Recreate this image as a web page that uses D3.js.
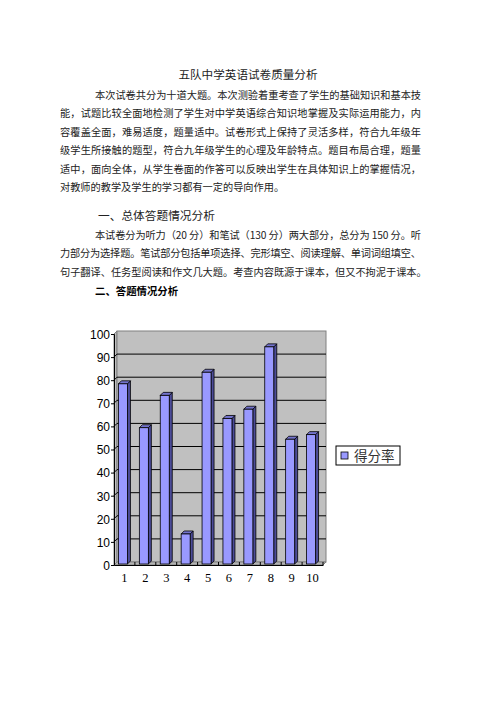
<!DOCTYPE html>
<html>
<head>
<meta charset="utf-8">
<script src="https://cdn.jsdelivr.net/npm/d3@7/dist/d3.min.js"></script>
<style>
  html, body { margin: 0; padding: 0; background: #fff; }
  svg { display: block; }
  .cjk { font-family: "Noto Sans CJK SC", "Noto Sans", sans-serif; fill: #222; }
</style>
</head>
<body>
<div id="page"></div>
<script>
// ---- data ----
const categories = ["1", "2", "3", "4", "5", "6", "7", "8", "9", "10"];
const scores = [78, 59, 73, 13, 83, 63, 67, 94, 54, 56];
const yTicks = [0, 10, 20, 30, 40, 50, 60, 70, 80, 90, 100];
const seriesName = "得分率";

const title = "五队中学英语试卷质量分析";
const para1 = [
  "本次试卷共分为十道大题。本次测验着重考查了学生的基础知识和基本技",
  "能，试题比较全面地检测了学生对中学英语综合知识地掌握及实际运用能力，内",
  "容覆盖全面，难易适度，题量适中。试卷形式上保持了灵活多样，符合九年级年",
  "级学生所接触的题型，符合九年级学生的心理及年龄特点。题目布局合理，题量",
  "适中，面向全体，从学生卷面的作答可以反映出学生在具体知识上的掌握情况，",
  "对教师的教学及学生的学习都有一定的导向作用。"
];
const heading1 = "一、总体答题情况分析";
const para2 = [
  "本试卷分为听力（20 分）和笔试（130 分）两大部分，总分为 150 分。听",
  "力部分为选择题。笔试部分包括单项选择、完形填空、阅读理解、单词词组填空、",
  "句子翻译、任务型阅读和作文几大题。考查内容既源于课本，但又不拘泥于课本。"
];
const heading2 = "二、答题情况分析";

const W = 496, H = 702;
const svg = d3.select("#page").append("svg")
    .attr("width", W).attr("height", H);

// ---- text block ----
const textLeft = 60, textRight = 421, indentX = 95, lineGap = 18.4;

svg.append("text").attr("class", "cjk")
   .attr("x", 248).attr("y", 79)
   .attr("text-anchor", "middle")
   .style("font-size", "11.6px")
   .text(title);

function paragraph(lines, y0) {
  lines.forEach((line, i) => {
    const x = i === 0 ? indentX : textLeft;
    const t = svg.append("text").attr("class", "cjk")
       .attr("x", x).attr("y", y0 + i * lineGap)
       .style("font-size", "10.2px")
       .text(line);
    if (i < lines.length - 1) {
      t.attr("textLength", textRight - x).attr("lengthAdjust", "spacing");
    }
  });
}
paragraph(para1, 99);

svg.append("text").attr("class", "cjk")
   .attr("x", 98).attr("y", 219.5)
   .style("font-size", "11.7px")
   .text(heading1);

paragraph(para2, 239);

svg.append("text").attr("class", "cjk")
   .attr("x", 95).attr("y", 294.5)
   .style("font-size", "10.4px")
   .style("font-weight", "bold")
   .style("fill", "#000")
   .text(heading2);

// ---- chart ----
const depth = 3;
const xFront0 = 114, xFront1 = 323;
const yScale = d3.scaleLinear().domain([0, 100]).range([565, 334]);
const xScale = d3.scaleBand().domain(categories).range([xFront0, xFront1]).padding(0);
const step = xScale.step();
const barW = 9;

const chart = svg.append("g");

// left side wall
chart.append("path")
  .attr("d", `M${xFront0},${yScale(0)} L${xFront0},${yScale(100)} L${xFront0 + depth},${yScale(100) - depth} L${xFront0 + depth},${yScale(0) - depth} Z`)
  .attr("fill", "#c0c0c0").attr("stroke", "#808080").attr("stroke-width", 1);

// back wall
chart.append("rect")
  .attr("x", xFront0 + depth).attr("y", yScale(100) - depth)
  .attr("width", xFront1 - xFront0).attr("height", yScale(0) - yScale(100))
  .attr("fill", "#c0c0c0").attr("stroke", "#808080").attr("stroke-width", 1);

// floor
chart.append("path")
  .attr("d", `M${xFront0},${yScale(0)} L${xFront1},${yScale(0)} L${xFront1 + depth},${yScale(0) - depth} L${xFront0 + depth},${yScale(0) - depth} Z`)
  .attr("fill", "#b4b4b4").attr("stroke", "#808080").attr("stroke-width", 1);

// gridlines on wall
const gridVals = yTicks.filter(v => v > 0 && v < 100);
chart.selectAll(".grid").data(gridVals).join("path")
  .attr("class", "grid")
  .attr("d", v => `M${xFront0},${yScale(v)} L${xFront0 + depth},${yScale(v) - depth} L${xFront1 + depth},${yScale(v) - depth}`)
  .attr("fill", "none").attr("stroke", "#000").attr("stroke-width", 1);

// bars
const bars = chart.selectAll(".bar").data(scores).join("g").attr("class", "bar");
const bx = (d, i) => xScale(categories[i]) + (step - barW - depth) / 2;
const y0b = yScale(0) - 1;
bars.append("path") // side
  .attr("d", (d, i) => {
    const x = bx(d, i) + barW, yt = yScale(d) - 1;
    return `M${x},${yt} L${x + depth},${yt - depth} L${x + depth},${y0b - depth} L${x},${y0b} Z`;
  })
  .attr("fill", "#4c4c99").attr("stroke", "#000").attr("stroke-width", 0.8);
bars.append("path") // top
  .attr("d", (d, i) => {
    const x = bx(d, i), yt = yScale(d) - 1;
    return `M${x},${yt} L${x + depth},${yt - depth} L${x + barW + depth},${yt - depth} L${x + barW},${yt} Z`;
  })
  .attr("fill", "#7373cc").attr("stroke", "#000").attr("stroke-width", 0.8);
bars.append("rect") // front
  .attr("x", (d, i) => bx(d, i))
  .attr("y", d => yScale(d) - 1)
  .attr("width", barW)
  .attr("height", d => y0b - (yScale(d) - 1))
  .attr("fill", "#9999ff").attr("stroke", "#000").attr("stroke-width", 0.8);

// y axis
const yAxis = d3.axisLeft(yScale).tickValues(yTicks).tickSize(3).tickPadding(1);
const gy = chart.append("g").attr("transform", `translate(${xFront0},0)`).call(yAxis);
gy.select(".domain").attr("stroke", "#000");
gy.selectAll("text")
  .style("font-family", "Arial, 'Liberation Sans', sans-serif")
  .style("font-size", "12px").attr("fill", "#000").attr("dy", "0.36em");

// x axis
const xAxis = d3.axisBottom(xScale).tickSize(0).tickPadding(8);
const gx = chart.append("g").attr("transform", `translate(0,${yScale(0)})`).call(xAxis);
gx.select(".domain").attr("stroke", "#000");
gx.selectAll("text")
  .style("font-family", "'Liberation Serif', 'DejaVu Serif', serif")
  .style("font-size", "12.5px").attr("fill", "#000");
// small category boundary ticks
chart.selectAll(".xtick").data(categories).join("line")
  .attr("class", "xtick")
  .attr("x1", c => xScale(c) + step).attr("x2", c => xScale(c) + step)
  .attr("y1", yScale(0)).attr("y2", yScale(0) - 3)
  .attr("stroke", "#000");

// legend
const lg = svg.append("g").attr("transform", "translate(336,446)");
lg.append("rect").attr("width", 64).attr("height", 19)
  .attr("fill", "#fff").attr("stroke", "#000").attr("stroke-width", 1);
lg.append("rect").attr("x", 5).attr("y", 6).attr("width", 7).attr("height", 7)
  .attr("fill", "#9999ff").attr("stroke", "#000").attr("stroke-width", 0.8);
lg.append("text").attr("class", "cjk")
  .attr("x", 18).attr("y", 14.5)
  .style("font-size", "13.5px").style("fill", "#333")
  .text(seriesName);
</script>
</body>
</html>
